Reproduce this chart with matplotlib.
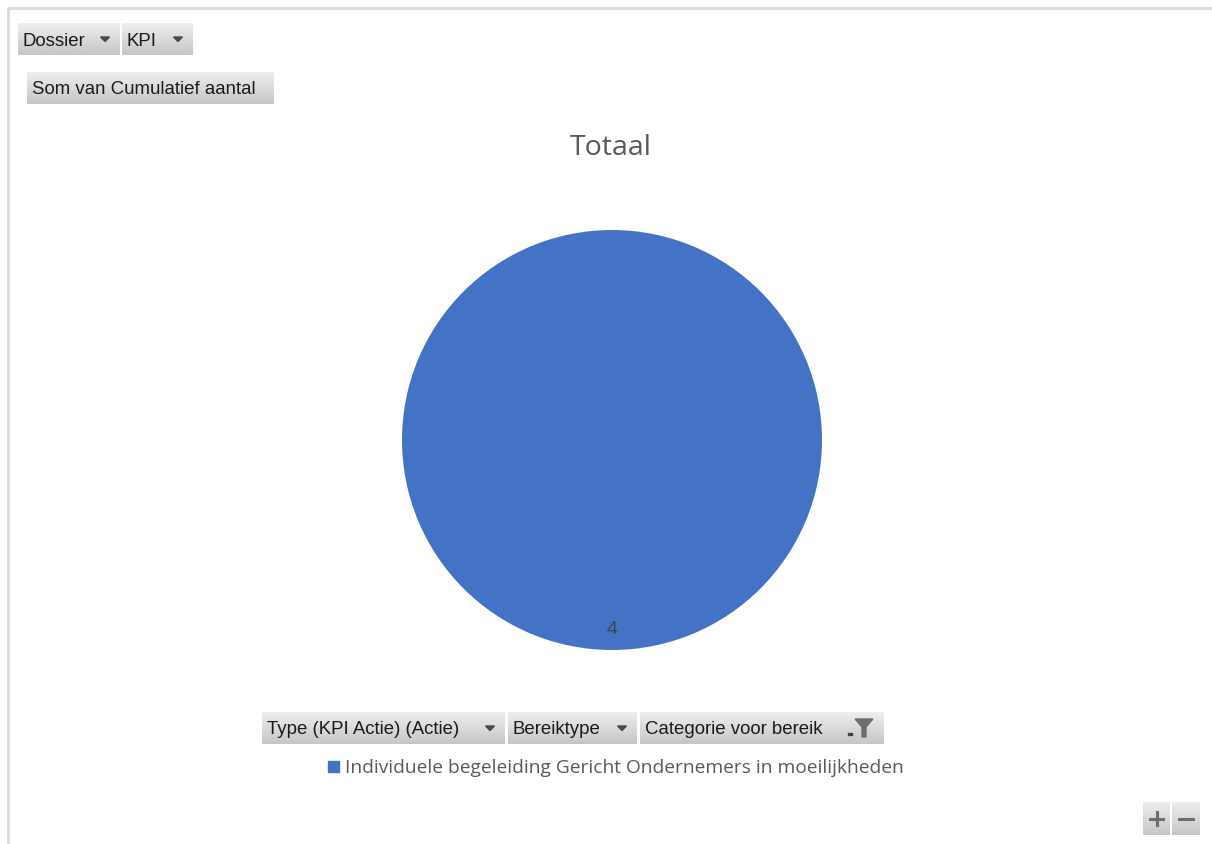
import numpy as np
import matplotlib.pyplot as plt
from matplotlib.patches import Rectangle, Polygon

# pivot chart data
categories = ["Individuele begeleiding Gericht Ondernemers in moeilijkheden"]
values = [4]
chart_title = "Totaal"
top_fields = ["Dossier", "KPI"]
value_field = "Som van Cumulatief aantal"
axis_fields = ["Type (KPI Actie) (Actie)", "Bereiktype", "Categorie voor bereik"]

W, H = 1212, 845
fig = plt.figure(figsize=(W / 100, H / 100), dpi=100)
fig.patch.set_facecolor("white")

# overlay axes in pixel units for the pivot field buttons
bg = fig.add_axes([0, 0, 1, 1])
bg.set_xlim(0, W)
bg.set_ylim(H, 0)
bg.axis("off")

# chart area border
bg.plot([8, 8, W], [H, 9, 9], color="#d9d9d9", lw=2, solid_capstyle="butt")

grad = np.linspace(0, 1, 32).reshape(-1, 1)
cmap = plt.matplotlib.colors.LinearSegmentedColormap.from_list("btn", ["#eeeeee", "#c6c6c6"])

BTN_FONT = ["Liberation Sans", "DejaVu Sans"]


def button(x0, x1, y0, y1, text=None, arrow=False, funnel=False, size=13.4):
    bg.imshow(grad, cmap=cmap, extent=(x0, x1, y1, y0), aspect="auto", zorder=1)
    if text:
        bg.text(x0 + 5, (y0 + y1) / 2 + 1, text, fontsize=size, family=BTN_FONT,
                color="#1a1a1a", va="center", ha="left", zorder=3)
    if arrow:
        ax_ = x1 - 15
        ay = (y0 + y1) / 2
        bg.add_patch(Polygon([[ax_ - 4.5, ay - 2], [ax_ + 4.5, ay - 2], [ax_, ay + 2.5]],
                             closed=True, color="#4a4a4a", zorder=3))
    if funnel:
        fx = x1 - 20
        fy = (y0 + y1) / 2
        bg.add_patch(Polygon([[fx - 9, fy - 9], [fx + 9, fy - 9], [fx + 2, fy - 1],
                              [fx + 2, fy + 9], [fx - 2, fy + 9], [fx - 2, fy - 1]],
                             closed=True, color="#6e6e6e", zorder=3))
        bg.add_patch(Rectangle((fx - 16, fy + 5), 4, 1.5, color="#404040", zorder=3))


button(18, 120, 24, 56, top_fields[0], arrow=True)
button(122, 193, 24, 56, top_fields[1], arrow=True)
button(27, 274, 73, 105, value_field)
button(262, 505, 713, 745, axis_fields[0], arrow=True)
button(508, 637, 713, 745, axis_fields[1], arrow=True)
button(640, 884, 713, 745, axis_fields[2], funnel=True)

# zoom buttons
button(1143, 1170, 803, 836)
button(1172, 1200, 803, 836)
bg.plot([1150, 1163], [819.5, 819.5], color="#6e6e6e", lw=2.2, zorder=3)
bg.plot([1156.5, 1156.5], [813, 826], color="#6e6e6e", lw=2.2, zorder=3)
bg.plot([1179, 1193], [819.5, 819.5], color="#6e6e6e", lw=2.2, zorder=3)

# title
bg.text(611, 148, chart_title, fontsize=20.5, family=["Open Sans", "DejaVu Sans"],
        color="#595959", ha="center", va="center")

# legend
pie_colors = ["#4472c4"]
bg.add_patch(Rectangle((328, 762), 11, 11, color=pie_colors[0], zorder=3))
bg.text(345, 768, categories[0], fontsize=13.8, family=["Open Sans", "DejaVu Sans"],
        color="#595959", ha="left", va="center")

# pie
cx, cy, r = 612, 441, 210
pie_ax = fig.add_axes([(cx - r) / W, (H - cy - r) / H, 2 * r / W, 2 * r / H])
wedges, _ = pie_ax.pie(values, colors=pie_colors, startangle=90, counterclock=False,
                       wedgeprops=dict(linewidth=0))
pie_ax.set_aspect("equal")
pie_ax.set_xlim(-1, 1)
pie_ax.set_ylim(-1, 1)
pie_ax.axis("off")
pie_ax.text(0, -0.895, str(values[0]), fontsize=13.5, family=["Open Sans", "DejaVu Sans"],
            color="#404040", ha="center", va="center")

fig.savefig("out.png", dpi=100)
